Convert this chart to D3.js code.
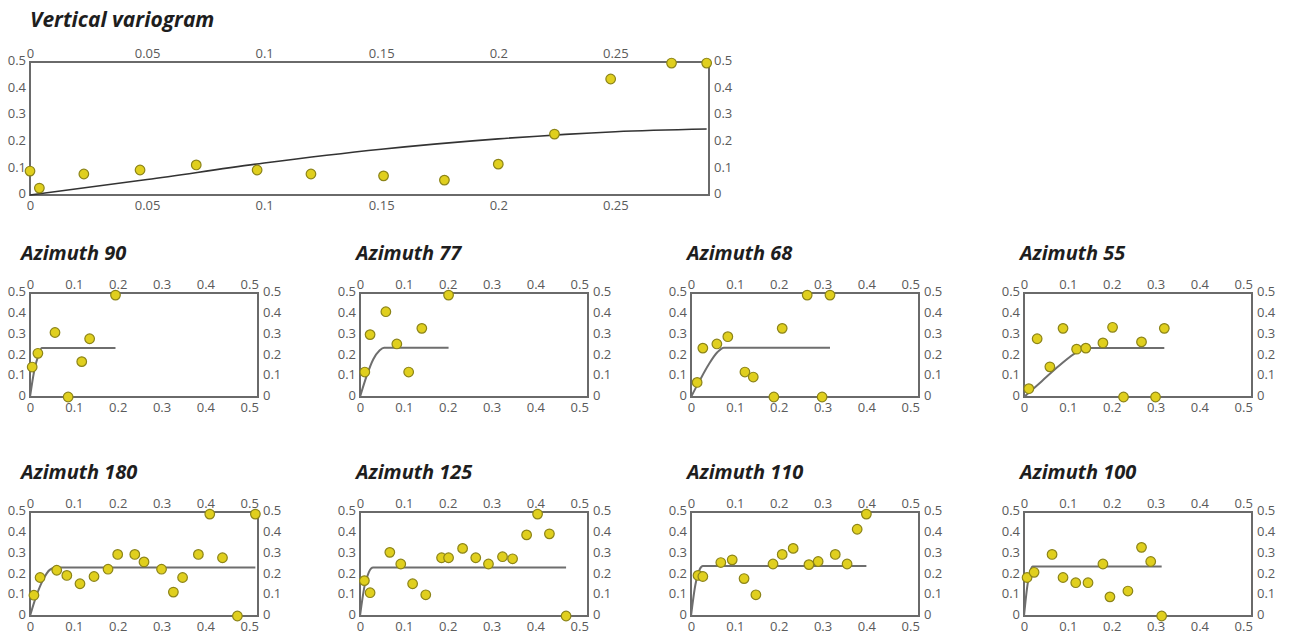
<!DOCTYPE html>
<html>
<head>
<meta charset="utf-8">
<script src="https://cdn.jsdelivr.net/npm/d3@7"></script>
<style>
  html, body { margin: 0; padding: 0; background: #fff; }
  svg { display: block; }
  .tick text { font-family: "Open Sans", sans-serif; font-size: 13px; fill: #5a5a5a; }
  .title { font-family: "Open Sans", sans-serif; font-weight: 700; font-style: italic; fill: #1e1e1e; }
</style>
</head>
<body>
<svg id="chart" width="1293" height="636"></svg>
<script>
// ---------- Data ----------
const yTicks = [0, 0.1, 0.2, 0.3, 0.4, 0.5];
const yTickLabels = ["0", "0.1", "0.2", "0.3", "0.4", "0.5"];
const xTicksVert = [0, 0.05, 0.1, 0.15, 0.2, 0.25];
const xTickLabelsVert = ["0", "0.05", "0.1", "0.15", "0.2", "0.25"];
const xTicksAz = [0, 0.1, 0.2, 0.3, 0.4, 0.5];
const xTickLabelsAz = ["0", "0.1", "0.2", "0.3", "0.4", "0.5"];

// Vertical variogram: experimental points [lag, gamma] and model
const vertPoints = [[0, 0.09], [0.004, 0.026], [0.023, 0.079], [0.047, 0.094], [0.071, 0.113],
  [0.097, 0.094], [0.12, 0.079], [0.151, 0.072], [0.177, 0.056], [0.2, 0.116], [0.224, 0.229],
  [0.248, 0.436], [0.274, 0.496], [0.289, 0.496]];
const vertModel = [[0, 0], [0.05, 0.058], [0.1, 0.12], [0.15, 0.172], [0.2, 0.211], [0.25, 0.238], [0.289, 0.248]];

const az90Points = [[0.005, 0.144], [0.018, 0.21], [0.057, 0.31], [0.136, 0.28], [0.118, 0.17], [0.087, 0.0], [0.195, 0.49]];
const az90Model = [[0, 0], [0.01, 0.13], [0.02, 0.205], [0.027, 0.235], [0.195, 0.235]];

const az77Points = [[0.011, 0.12], [0.023, 0.30], [0.059, 0.41], [0.084, 0.255], [0.141, 0.33], [0.111, 0.12], [0.202, 0.49]];
const az77Model = [[0, 0], [0.015, 0.1], [0.03, 0.18], [0.045, 0.225], [0.055, 0.237], [0.202, 0.237]];

const az68Points = [[0.014, 0.07], [0.027, 0.235], [0.059, 0.255], [0.084, 0.29], [0.123, 0.12], [0.142, 0.096],
  [0.208, 0.33], [0.189, 0.0], [0.265, 0.49], [0.317, 0.49], [0.299, 0.0]];
const az68Model = [[0, 0], [0.02, 0.08], [0.04, 0.155], [0.06, 0.215], [0.075, 0.237], [0.317, 0.237]];

const az55Points = [[0.011, 0.04], [0.03, 0.28], [0.059, 0.145], [0.089, 0.33], [0.12, 0.23], [0.141, 0.235],
  [0.18, 0.26], [0.202, 0.335], [0.227, 0.0], [0.268, 0.265], [0.3, 0.0], [0.32, 0.33]];
const az55Model = [[0, 0], [0.04, 0.075], [0.08, 0.15], [0.12, 0.215], [0.15, 0.235], [0.32, 0.235]];

const az180Points = [[0.009, 0.10], [0.023, 0.185], [0.061, 0.22], [0.084, 0.195], [0.114, 0.155], [0.146, 0.19],
  [0.178, 0.225], [0.2, 0.296], [0.239, 0.296], [0.26, 0.26], [0.30, 0.225], [0.327, 0.115], [0.348, 0.185],
  [0.384, 0.296], [0.41, 0.49], [0.439, 0.28], [0.473, 0.0], [0.514, 0.49]];
const az180Model = [[0, 0], [0.015, 0.1], [0.03, 0.175], [0.045, 0.222], [0.059, 0.233], [0.514, 0.233]];

const az125Points = [[0.01, 0.17], [0.023, 0.112], [0.068, 0.306], [0.093, 0.25], [0.12, 0.155], [0.15, 0.102],
  [0.186, 0.28], [0.202, 0.28], [0.234, 0.325], [0.264, 0.28], [0.293, 0.25], [0.325, 0.285], [0.348, 0.275],
  [0.38, 0.39], [0.405, 0.49], [0.432, 0.395], [0.47, 0.0]];
const az125Model = [[0, 0], [0.01, 0.14], [0.02, 0.21], [0.03, 0.233], [0.47, 0.233]];

const az110Points = [[0.016, 0.195], [0.027, 0.19], [0.068, 0.257], [0.094, 0.27], [0.121, 0.18], [0.148, 0.102],
  [0.187, 0.25], [0.208, 0.296], [0.233, 0.325], [0.269, 0.247], [0.29, 0.262], [0.329, 0.296], [0.356, 0.25],
  [0.379, 0.417], [0.4, 0.49]];
const az110Model = [[0, 0], [0.01, 0.15], [0.02, 0.225], [0.027, 0.24], [0.4, 0.24]];

const az100Points = [[0.007, 0.185], [0.023, 0.21], [0.064, 0.296], [0.089, 0.185], [0.118, 0.16], [0.146, 0.16],
  [0.18, 0.25], [0.196, 0.092], [0.237, 0.12], [0.268, 0.33], [0.289, 0.262], [0.314, 0.0]];
const az100Model = [[0, 0], [0.008, 0.15], [0.015, 0.22], [0.02, 0.238], [0.314, 0.238]];

const panelTitles = ["Vertical variogram", "Azimuth 90", "Azimuth 77", "Azimuth 68", "Azimuth 55",
  "Azimuth 180", "Azimuth 125", "Azimuth 110", "Azimuth 100"];

// ---------- Drawing ----------
const svg = d3.select("#chart");

function drawPanel(cfg) {
  const { left, top, width, height, xMax, xTicks, xLabels, points, model, title, titleX, titleY, titleSize, lineColor, lineWidth } = cfg;
  const x = d3.scaleLinear().domain([0, xMax]).range([left, left + width]);
  const y = d3.scaleLinear().domain([0, 0.5]).range([top + height, top]);
  const g = svg.append("g");

  const fmtX = d => xLabels[xTicks.indexOf(d)];
  const fmtY = d => yTickLabels[yTicks.indexOf(d)];

  const axT = g.append("g").attr("transform", `translate(0,${top})`)
    .call(d3.axisTop(x).tickValues(xTicks).tickFormat(fmtX).tickSize(0).tickPadding(4));
  const axB = g.append("g").attr("transform", `translate(0,${top + height})`)
    .call(d3.axisBottom(x).tickValues(xTicks).tickFormat(fmtX).tickSize(0).tickPadding(6));
  const axL = g.append("g").attr("transform", `translate(${left},0)`)
    .call(d3.axisLeft(y).tickValues(yTicks).tickFormat(fmtY).tickSize(0).tickPadding(4));
  const axR = g.append("g").attr("transform", `translate(${left + width},0)`)
    .call(d3.axisRight(y).tickValues(yTicks).tickFormat(fmtY).tickSize(0).tickPadding(5));
  [axT, axB, axL, axR].forEach(a => { a.select(".domain").remove(); a.attr("font-family", null).attr("font-size", null); });
  axL.selectAll("text").attr("dy", "0.2em");
  axR.selectAll("text").attr("dy", "0.2em");

  g.append("rect")
    .attr("x", left).attr("y", top).attr("width", width).attr("height", height)
    .attr("fill", "none").attr("stroke", "#6a6a6a").attr("stroke-width", 2);

  g.append("path")
    .datum(model)
    .attr("fill", "none")
    .attr("stroke", lineColor)
    .attr("stroke-width", lineWidth)
    .attr("d", d3.line().x(d => x(d[0])).y(d => y(d[1])).curve(d3.curveMonotoneX));

  g.selectAll("circle.pt").data(points).join("circle")
    .attr("class", "pt")
    .attr("cx", d => x(d[0])).attr("cy", d => y(d[1]))
    .attr("r", 4.8)
    .attr("fill", "#e0cf1e")
    .attr("stroke", "#8c8418")
    .attr("stroke-width", 1.2);

  g.append("text").attr("class", "title")
    .attr("x", titleX).attr("y", titleY)
    .attr("font-size", titleSize)
    .text(title);
}

drawPanel({ left: 30, top: 62, width: 679, height: 133, xMax: 0.29, xTicks: xTicksVert, xLabels: xTickLabelsVert,
  points: vertPoints, model: vertModel, title: panelTitles[0], titleX: 30, titleY: 27, titleSize: 21,
  lineColor: "#333", lineWidth: 1.6 });

const colLefts = [30, 360, 691, 1024];
const rowTops = [293, 512];
const azData = [
  [az90Points, az90Model], [az77Points, az77Model], [az68Points, az68Model], [az55Points, az55Model],
  [az180Points, az180Model], [az125Points, az125Model], [az110Points, az110Model], [az100Points, az100Model]
];
const titleXs = [21, 356, 687, 1020];
const titleYs = [260, 479];

azData.forEach((d, i) => {
  const row = Math.floor(i / 4), col = i % 4;
  drawPanel({ left: colLefts[col], top: rowTops[row], width: 228, height: 104, xMax: 0.52,
    xTicks: xTicksAz, xLabels: xTickLabelsAz, points: d[0], model: d[1],
    title: panelTitles[i + 1], titleX: titleXs[col], titleY: titleYs[row], titleSize: 20,
    lineColor: "#6e6e6e", lineWidth: 2 });
});
</script>
</body>
</html>
